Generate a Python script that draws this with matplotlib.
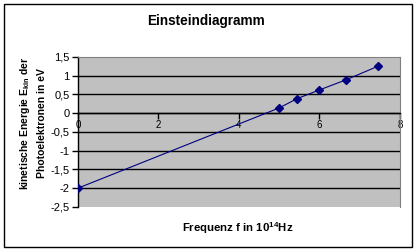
import matplotlib
matplotlib.use('Agg')
import matplotlib.pyplot as plt
from matplotlib.patches import Rectangle

plt.rcParams['font.family'] = ['Liberation Sans', 'DejaVu Sans']
plt.rcParams['mathtext.fontset'] = 'custom'
plt.rcParams['mathtext.bf'] = 'Liberation Sans:bold'
plt.rcParams['mathtext.rm'] = 'Liberation Sans'

# Daten
frequenz = [0.0, 5.0, 5.45, 6.0, 6.66, 7.45]
energie = [-2.0, 0.14, 0.39, 0.62, 0.89, 1.25]
x_ticks = [0, 2, 4, 6, 8]
y_ticks = [-2.5, -2, -1.5, -1, -0.5, 0, 0.5, 1, 1.5]
y_ticklabels = ['-2,5', '-2', '-1,5', '-1', '-0,5', '0', '0,5', '1', '1,5']

fig = plt.figure(figsize=(4.17, 2.52), dpi=100)
fig.patch.set_facecolor('white')
# äußerer Rahmen
fig.patches.append(Rectangle((0.0096, 0.02), 0.978, 0.964, transform=fig.transFigure,
                             fill=False, edgecolor='black', linewidth=1))

ax = fig.add_axes([0.187, 0.179, 0.772, 0.595])
ax.set_facecolor('#C0C0C0')
ax.set_xlim(0, 8)
ax.set_ylim(-2.5, 1.5)

for y in y_ticks[1:-1]:
    ax.axhline(y, color='black', linewidth=1, zorder=1)

ax.plot(frequenz, energie, color='#000080', linewidth=0.8, marker='D', markersize=3.6, zorder=3)

for s in ['top', 'right']:
    ax.spines[s].set_color('#808080')
    ax.spines[s].set_linewidth(0.8)
ax.spines['bottom'].set_position(('data', 0))
ax.spines['bottom'].set_color('black')
ax.spines['left'].set_color('black')
ax.spines['bottom'].set_linewidth(1)
ax.spines['left'].set_linewidth(1)

ax.set_xticks(x_ticks)
ax.set_xticklabels([str(t) for t in x_ticks], fontsize=7)
ax.set_yticks(y_ticks)
ax.set_yticklabels(y_ticklabels, fontsize=8)
ax.tick_params(axis='x', direction='out', length=4, pad=1, width=1)
ax.tick_params(axis='y', direction='out', length=4, pad=2, width=1)

fig.text(0.494, 0.915, 'Einsteindiagramm', ha='center', va='center',
         fontsize=9.8, fontweight='bold')
fig.text(0.571, 0.095, r'Frequenz f in 10$\mathbf{^{14}}$Hz', ha='center', va='center',
         fontsize=8.2, fontweight='bold')
fig.text(0.077, 0.51, 'kinetische Energie E$\\mathbf{_{kin}}$ der\nPhotoelektronen in eV', ha='center',
         va='center', rotation=90, fontsize=7.5, fontweight='bold', linespacing=1.6)

fig.savefig('out.png', dpi=100)
